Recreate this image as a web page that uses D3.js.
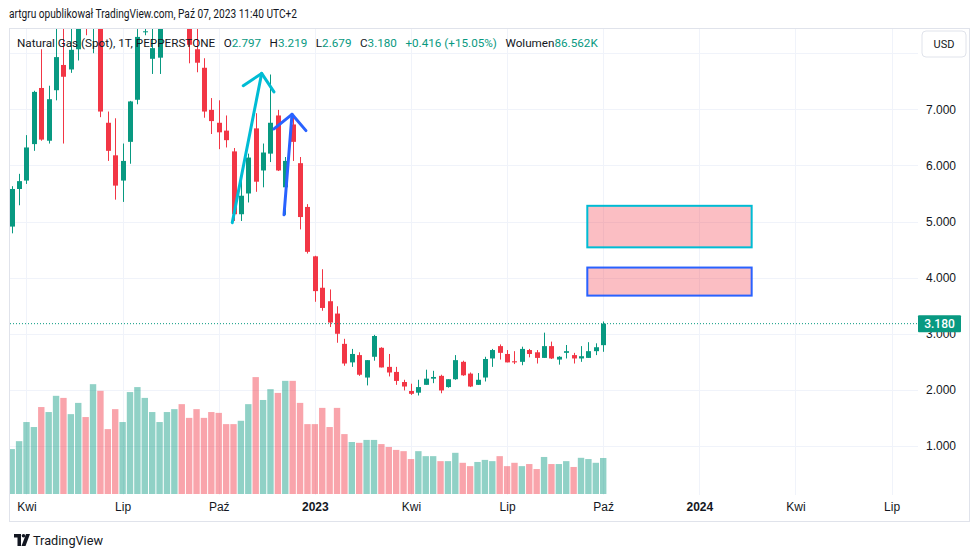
<!DOCTYPE html>
<html><head><meta charset="utf-8">
<script src="https://cdn.jsdelivr.net/npm/d3@7"></script>
<style>
html,body{margin:0;padding:0;background:#fff;}
svg{display:block;font-family:Roboto,"Liberation Sans",sans-serif;}
</style></head><body>
<svg id="chart" width="980" height="557"></svg>
<script>
// ---------- DATA ----------
const firstWeek = "2022-03-21"; // Monday of first weekly bar
const open  = [4.91,5.58,5.73,6.38,7.38,6.44,7.34,7.79,7.71,8.07,8.90,8.70,9.10,6.76,6.18,5.73,6.42,7.17,8.38,7.90,7.92,8.75,9.25,9.40,8.95,8.07,7.74,6.99,6.76,6.62,6.25,5.13,5.50,6.66,5.91,6.21,6.89,5.61,6.73,6.04,5.26,4.38,3.82,3.58,3.36,2.82,2.49,2.62,2.22,2.59,2.75,2.41,2.32,2.14,1.98,1.95,2.09,2.20,2.25,2.05,2.19,2.50,2.29,2.09,2.22,2.56,2.78,2.64,2.51,2.50,2.71,2.67,2.57,2.78,2.54,2.66,2.62,2.56,2.57,2.69,2.797];
const high  = [5.63,5.85,6.54,7.33,8.07,7.42,8.55,8.70,8.55,8.85,9.30,9.40,9.30,6.96,6.84,6.39,7.15,8.43,8.44,8.60,9.00,9.50,9.80,9.60,9.20,8.50,7.91,7.20,7.16,6.89,6.31,5.86,6.21,6.93,6.39,7.62,6.99,6.15,6.89,6.15,5.31,4.39,4.15,3.79,3.49,2.91,2.73,2.67,2.53,2.98,2.76,2.64,2.41,2.18,2.11,2.18,2.36,2.34,2.27,2.19,2.62,2.52,2.31,2.30,2.59,2.73,2.81,2.71,2.69,2.77,2.73,2.71,3.02,2.86,2.60,2.80,2.66,2.78,2.85,2.83,3.219];
const low   = [4.79,5.29,5.67,6.26,6.44,6.39,7.16,6.39,7.65,7.87,8.32,8.00,6.86,6.08,5.39,5.35,6.03,7.09,8.32,7.63,7.63,8.55,8.90,8.70,7.82,7.66,6.85,6.56,6.29,6.32,5.01,5.01,5.34,5.53,5.61,6.06,5.90,5.12,6.08,4.86,4.43,3.57,3.41,3.12,2.84,2.43,2.41,2.25,2.08,2.52,2.40,2.24,2.09,1.99,1.91,1.90,2.09,2.12,1.94,2.04,2.18,2.25,2.05,2.09,2.15,2.41,2.54,2.49,2.46,2.44,2.58,2.47,2.57,2.55,2.45,2.56,2.47,2.50,2.57,2.62,2.679];
const close = [5.58,5.72,6.32,7.31,6.46,7.18,7.93,7.58,8.06,8.60,8.70,9.10,6.96,6.26,5.64,6.08,7.14,8.29,8.39,8.09,8.75,9.25,9.40,8.95,8.15,7.83,6.96,6.79,6.59,6.45,5.13,5.46,6.14,5.71,6.23,6.76,5.91,6.08,6.42,5.08,4.46,3.76,3.46,3.20,3.00,2.47,2.64,2.27,2.53,2.96,2.40,2.31,2.16,2.06,1.93,2.05,2.20,2.23,1.99,2.19,2.53,2.26,2.06,2.18,2.55,2.71,2.66,2.49,2.49,2.73,2.64,2.57,2.78,2.56,2.59,2.69,2.56,2.60,2.69,2.76,3.180];
const volumeK = [108,127,173,161,209,197,236,231,192,219,185,264,248,156,204,173,245,257,231,197,173,197,204,216,183,204,183,197,195,168,168,176,216,281,226,252,243,272,272,219,168,168,207,161,207,144,125,123,130,130,120,113,106,103,84,103,91,91,79,79,99,75,67,77,82,79,91,67,75,67,72,60,89,72,72,79,65,87,84,75,86.562];

const priceTicks  = [1,2,3,4,5,6,7,8];
const priceLabels = ["1.000","2.000","3.000","4.000","5.000","6.000","7.000",""];
const timeTicks   = ["2022-04-04","2022-07-04","2022-10-03","2023-01-02","2023-04-03","2023-07-03","2023-10-02","2024-01-01","2024-04-01","2024-07-01"];
const timeLabels  = ["Kwi","Lip","Paź","2023","Kwi","Lip","Paź","2024","Kwi","Lip"];
const lastPrice = 3.180;

// drawings, in (week index, price)
const zones = [
  {w0:77.85, w1:100.08, top:5.28, bottom:4.54, color:"#00bcd4"},
  {w0:77.85, w1:100.08, top:4.18, bottom:3.68, color:"#2962ff"}
];
const arrows = [
  {color:"#00bcd4", shaft:[[29.83,4.98],[33.81,7.64]], head:[[31.32,7.42],[33.81,7.64],[35.47,7.31]]},
  {color:"#2962ff", shaft:[[36.83,5.12],[37.91,6.91]], head:[[35.47,6.65],[37.91,6.91],[39.80,6.62]]}
];

const legendName = "Natural Gas (Spot), 1T, PEPPERSTONE";
const legendParts = [["O","2.797"],["H","3.219"],["L","2.679"],["C","3.180"],["","+0.416 (+15.05%)"],["Wolumen","86.562K"]];
const titleText = "artgru opublikował TradingView.com, Paź 07, 2023 11:40 UTC+2";

// ---------- CHART ----------
const UP = "#089981", DOWN = "#f23645";
const UPV = "rgba(8,153,129,0.45)", DOWNV = "rgba(242,54,69,0.45)";
const TXT = "#131722";
const svg = d3.select("#chart");
const plot = {l:10, r:918, t:29, b:495};

const start = new Date(firstWeek + "T00:00:00Z");
const dates = close.map((_, i) => d3.utcMonday.offset(start, i));
const weekDate = w => new Date(start.getTime() + w * 7 * 864e5);

const x = d3.scaleUtc().domain([dates[0], dates[dates.length-1]]).range([11.7, 603.2]);
const y = d3.scaleLinear().domain([1, 7]).range([446, 109.3]);
const yv = d3.scaleLinear().domain([0, 300]).range([494, 369.2]);

svg.append("rect").attr("width",980).attr("height",557).attr("fill","#fff");

// frame
svg.append("rect").attr("x",9.5).attr("y",28.5).attr("width",960).attr("height",493)
  .attr("fill","none").attr("stroke","#e0e3eb").attr("stroke-width",1);

svg.append("defs").append("clipPath").attr("id","clip")
  .append("rect").attr("x",plot.l).attr("y",plot.t).attr("width",plot.r-plot.l).attr("height",plot.b-plot.t);

// grid
const grid = svg.append("g");
grid.append("g").attr("transform",`translate(${plot.l},0)`)
  .call(d3.axisRight(y).tickValues(priceTicks).tickSize(plot.r-plot.l).tickFormat(""))
  .call(g => g.select(".domain").remove())
  .call(g => g.selectAll("line").attr("stroke","#f0f3fa").attr("shape-rendering","crispEdges"));
grid.append("g").attr("transform",`translate(0,${plot.t})`)
  .call(d3.axisBottom(x).tickValues(timeTicks.map(d=>new Date(d+"T00:00:00Z"))).tickSize(plot.b-plot.t).tickFormat(""))
  .call(g => g.select(".domain").remove())
  .call(g => g.selectAll("line").attr("stroke","#f0f3fa").attr("shape-rendering","crispEdges"));

const body = svg.append("g").attr("clip-path","url(#clip)");

// volume
body.append("g").selectAll("rect").data(volumeK).join("rect")
  .attr("x",(d,i)=>x(dates[i])-3.2).attr("width",6.4)
  .attr("y",d=>yv(d)).attr("height",d=>yv(0)-yv(d))
  .attr("fill",(d,i)=>close[i]>=open[i]?UPV:DOWNV);

// candles
const cg = body.append("g").selectAll("g").data(close).join("g")
  .attr("fill",(d,i)=>close[i]>=open[i]?UP:DOWN);
cg.append("rect").attr("x",(d,i)=>Math.round(x(dates[i]))).attr("width",1)
  .attr("y",(d,i)=>y(high[i])).attr("height",(d,i)=>y(low[i])-y(high[i]));
cg.append("rect").attr("x",(d,i)=>Math.round(x(dates[i]))-2).attr("width",5)
  .attr("y",(d,i)=>y(Math.max(open[i],close[i])))
  .attr("height",(d,i)=>Math.max(1,Math.abs(y(open[i])-y(close[i]))));

// last price line
body.append("line").attr("x1",plot.l).attr("x2",plot.r).attr("y1",y(lastPrice)).attr("y2",y(lastPrice))
  .attr("stroke",UP).attr("stroke-width",1).attr("stroke-dasharray","1,2");

// zones
body.append("g").selectAll("rect").data(zones).join("rect")
  .attr("x",d=>x(weekDate(d.w0))).attr("width",d=>x(weekDate(d.w1))-x(weekDate(d.w0)))
  .attr("y",d=>y(d.top)).attr("height",d=>y(d.bottom)-y(d.top))
  .attr("fill","rgba(242,54,69,0.32)").attr("stroke",d=>d.color).attr("stroke-width",2);

// arrows
const ln = d3.line().x(p=>x(weekDate(p[0]))).y(p=>y(p[1]));
const ag = body.append("g").selectAll("g").data(arrows).join("g");
ag.append("path").attr("d",d=>ln(d.shaft)).attr("fill","none").attr("stroke",d=>d.color)
  .attr("stroke-width",3).attr("stroke-linecap","round");
ag.append("path").attr("d",d=>ln(d.head)).attr("fill","none").attr("stroke",d=>d.color)
  .attr("stroke-width",3).attr("stroke-linecap","round").attr("stroke-linejoin","round");

// price axis labels
svg.append("g").attr("transform",`translate(926,0)`)
  .call(d3.axisRight(y).tickValues(priceTicks.slice(0,7)).tickSize(0).tickPadding(0).tickFormat((d,i)=>priceLabels[i]))
  .call(g => g.select(".domain").remove())
  .call(g => g.selectAll("text").attr("font-size",12).attr("fill",TXT).attr("font-family",null));

// last price box (covers the 3.000 label partly, as in the original)
svg.append("rect").attr("x",918).attr("y",y(lastPrice)-8.5).attr("width",43).attr("height",17).attr("rx",1).attr("fill",UP);
svg.append("text").attr("x",939.5).attr("y",y(lastPrice)).attr("dy","0.35em").attr("text-anchor","middle")
  .attr("font-size",12).attr("font-weight",500).attr("fill","#fff").text(lastPrice.toFixed(3));

// USD box
svg.append("rect").attr("x",922).attr("y",31).attr("width",44).attr("height",26).attr("rx",4)
  .attr("fill","#fff").attr("stroke","#e0e3eb");
svg.append("text").attr("x",944).attr("y",44).attr("dy","0.35em").attr("text-anchor","middle")
  .attr("font-size",11).attr("fill",TXT).text("USD");

// time axis
svg.append("g").attr("transform",`translate(0,500)`)
  .call(d3.axisBottom(x).tickValues(timeTicks.map(d=>new Date(d+"T00:00:00Z"))).tickSize(0).tickPadding(2).tickFormat((d,i)=>timeLabels[i]))
  .call(g => g.select(".domain").remove())
  .call(g => g.selectAll("text").attr("font-size",12).attr("fill",TXT).attr("font-family",null)
     .attr("font-weight",(d,i)=>/^\d{4}$/.test(timeLabels[i])?700:400));

// title
svg.append("text").attr("x",9).attr("y",14).attr("dy","0.35em").attr("font-size",12.5).attr("fill",TXT)
  .attr("textLength",288).attr("lengthAdjust","spacingAndGlyphs").text(titleText);

// legend
const lg = svg.append("text").attr("x",17).attr("y",43).attr("dy","0.35em").attr("font-size",11.7).attr("fill",TXT);
lg.append("tspan").text(legendName);
legendParts.forEach((p,i)=>{
  if(p[0]) lg.append("tspan").attr("dx", 8.5).attr("fill",TXT).text(p[0]);
  lg.append("tspan").attr("dx", p[0]?0:8.5).attr("fill",UP).text(p[1]);
});

// TradingView logo
const logo = svg.append("g").attr("transform","translate(14,534)").attr("fill",TXT);
logo.append("path").attr("d","M0 0H7V12H3.5V3.5H0Z");
logo.append("circle").attr("cx",9.5).attr("cy",1.8).attr("r",1.8);
logo.append("path").attr("d","M12 0H16L11.5 12H7.5Z");
svg.append("text").attr("x",33).attr("y",540).attr("dy","0.35em").attr("font-size",13).attr("fill",TXT)
  .attr("textLength",70).attr("lengthAdjust","spacingAndGlyphs").text("TradingView");
</script>
</body></html>
